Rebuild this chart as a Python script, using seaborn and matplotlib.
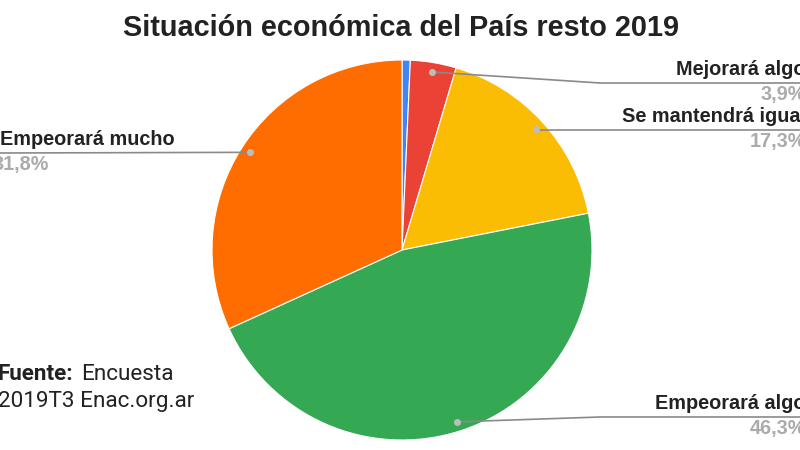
import numpy as np
import matplotlib
matplotlib.use("Agg")
import matplotlib.pyplot as plt
import seaborn as sns

# -----------------------------
# DATA
# -----------------------------
categorias = ["Mejorará mucho", "Mejorará algo", "Se mantendrá igual",
              "Empeorará algo", "Empeorará mucho"]
porcentajes = [0.7, 3.9, 17.3, 46.3, 31.8]
etiquetas_pct = ["0,7%", "3,9%", "17,3%", "46,3%", "31,8%"]
colores = ["#4285F4", "#EA4335", "#FBBC04", "#34A853", "#FF6D01"]

sns.set_theme(style="white")
plt.rcParams["font.family"] = ["Liberation Sans", "DejaVu Sans"]

fig = plt.figure(figsize=(8, 4.5), dpi=100)
ax = fig.add_axes([0, 0, 1, 1])

cx, cy, R = 402, 200, 190
wedges, _ = ax.pie(
    porcentajes,
    colors=colores,
    startangle=90,
    counterclock=False,
    center=(cx, cy),
    radius=R,
    wedgeprops=dict(edgecolor="white", linewidth=0.8),
    frame=True,
)
ax.set_xlim(0, 800)
ax.set_ylim(0, 450)
ax.set_aspect("equal")
ax.axis("off")

# -----------------------------
# LABELS WITH LEADER LINES
# -----------------------------
# (index, y of line, side, x where label text starts)
etiquetas = [(1, 367, "right", 676), (2, 320, "right", 622),
             (3, 33, "right", 655), (4, 297, "left", 0)]
total = sum(porcentajes)
acum = np.cumsum([0] + porcentajes)
line_col = "#8a8a8a"
fs_lab = 14.3
for i, y_line, side, x_txt in etiquetas:
    frac = (acum[i] + porcentajes[i] / 2) / total
    ang = np.deg2rad(90 - 360 * frac)
    dx, dy = cx + 0.95 * R * np.cos(ang), cy + 0.95 * R * np.sin(ang)
    ax.plot(dx, dy, "o", color="#bdbdbd", ms=4, zorder=5)
    if side == "right":
        x_elbow = max(dx, 600) if abs(dy - y_line) > 4 else dx
        ax.plot([dx, x_elbow, 810], [dy, y_line, y_line], color=line_col,
                lw=1.2, zorder=4, clip_on=False)
        ax.text(x_txt, y_line + 4, categorias[i], ha="left", va="bottom",
                fontsize=fs_lab, fontweight="bold", color="#222222")
        ax.text(806, y_line - 2, etiquetas_pct[i], ha="right", va="top",
                fontsize=fs_lab, fontweight="bold", color="#ababab")
    else:
        ax.plot([dx, 0], [dy, y_line], color=line_col, lw=1.2, zorder=4)
        ax.text(x_txt, y_line + 4, categorias[i], ha="left", va="bottom",
                fontsize=fs_lab, fontweight="bold", color="#222222")
        ax.text(-7, y_line - 2, etiquetas_pct[i], ha="left", va="top",
                fontsize=fs_lab, fontweight="bold", color="#ababab")

# -----------------------------
# TITLE AND SOURCE
# -----------------------------
ax.text(401, 422, "Situación económica del País resto 2019", ha="center",
        va="center", fontsize=20.8, fontweight="bold", color="#222222")
src_font = ["Roboto", "DejaVu Sans"]
ax.text(-2, 76, "Fuente:", ha="left", va="center", fontsize=16.2,
        fontweight="bold", color="#222222", family=src_font)
ax.text(81, 76, "Encuesta", ha="left", va="center", fontsize=16.2,
        color="#222222", family=src_font)
ax.text(-2, 49, "2019T3 Enac.org.ar", ha="left", va="center",
        fontsize=16.2, color="#222222", family=src_font)

fig.savefig("out.png", dpi=100)
